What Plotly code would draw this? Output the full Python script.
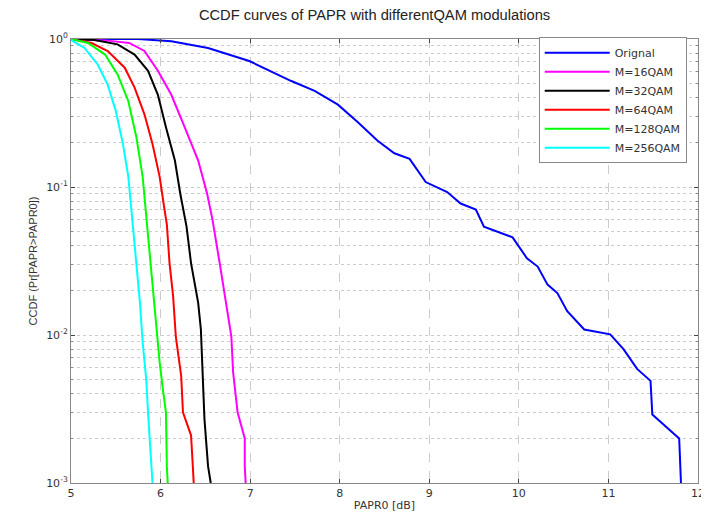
import plotly.graph_objects as go

# PAPR0 [dB] and CCDF values
orig_x = [5.0, 5.75, 6.12, 6.53, 6.99, 7.46, 7.72, 7.98, 8.2, 8.42, 8.61, 8.78, 8.96, 9.2, 9.35, 9.52, 9.61,
          9.8, 9.93, 10.09, 10.21, 10.32, 10.43, 10.54, 10.73, 11.02, 11.17, 11.32, 11.47, 11.49, 11.79, 11.81]
orig_y = [1.0, 1.0, 0.965, 0.87, 0.71, 0.52, 0.446, 0.36, 0.275, 0.206, 0.169, 0.155, 0.108, 0.0925, 0.0773,
          0.0704, 0.054, 0.049, 0.0457, 0.033, 0.029, 0.0219, 0.0192, 0.0145, 0.0109, 0.0101, 0.008, 0.0059,
          0.0049, 0.0029, 0.002, 0.001]

m16_x = [5.0, 5.41, 5.65, 5.82, 5.97, 6.12, 6.27, 6.42, 6.52, 6.58, 6.66, 6.73, 6.79, 6.81, 6.86, 6.94, 6.94, 6.95]
m16_y = [1.0, 0.975, 0.94, 0.83, 0.61, 0.42, 0.253, 0.151, 0.09, 0.06, 0.0306, 0.0165, 0.0098, 0.0056, 0.003,
         0.002, 0.0013, 0.001]

m32_x = [5.0, 5.26, 5.52, 5.71, 5.86, 5.97, 6.06, 6.16, 6.22, 6.29, 6.34, 6.42, 6.45, 6.47, 6.49, 6.53, 6.56]
m32_y = [1.0, 0.985, 0.92, 0.785, 0.61, 0.42, 0.253, 0.151, 0.09, 0.054, 0.0306, 0.0165, 0.0109, 0.0056,
         0.0027, 0.0013, 0.001]

m64_x = [5.0, 5.23, 5.41, 5.6, 5.71, 5.82, 5.91, 5.99, 6.04, 6.07, 6.1, 6.14, 6.17, 6.23, 6.25, 6.34, 6.36, 6.37]
m64_y = [1.0, 0.94, 0.83, 0.64, 0.47, 0.31, 0.195, 0.117, 0.073, 0.056, 0.0306, 0.0183, 0.0098, 0.0053, 0.003,
         0.0021, 0.0013, 0.001]

m128_x = [5.0, 5.19, 5.38, 5.52, 5.64, 5.73, 5.8, 5.85, 5.9, 5.95, 5.99, 6.03, 6.06, 6.07, 6.08]
m128_y = [1.0, 0.94, 0.785, 0.576, 0.38, 0.217, 0.117, 0.054, 0.0277, 0.0127, 0.0065, 0.0041, 0.003, 0.0013, 0.001]

m256_x = [5.0, 5.15, 5.3, 5.41, 5.5, 5.58, 5.64, 5.69, 5.73, 5.77, 5.8, 5.84, 5.86, 5.9, 5.91]
m256_y = [0.985, 0.87, 0.67, 0.49, 0.327, 0.195, 0.117, 0.057, 0.0306, 0.0165, 0.0089, 0.005, 0.003, 0.0013, 0.001]

series_names = ["Orignal", "M=16QAM", "M=32QAM", "M=64QAM", "M=128QAM", "M=256QAM"]
series_colors = ["#0000ff", "#ff00ff", "#000000", "#ff0000", "#00ff00", "#00ffff"]
series_x = [orig_x, m16_x, m32_x, m64_x, m128_x, m256_x]
series_y = [orig_y, m16_y, m32_y, m64_y, m128_y, m256_y]

x_ticks = [5, 6, 7, 8, 9, 10, 11, 12]
y_ticks = [1e-3, 1e-2, 1e-1, 1]
y_tick_text = ["10<sup>-3</sup>", "10<sup>-2</sup>", "10<sup>-1</sup>", "10<sup>0</sup>"]

fig = go.Figure()
for name, color, xs, ys in zip(series_names, series_colors, series_x, series_y):
    fig.add_trace(go.Scatter(x=xs, y=ys, mode="lines", name=name,
                             line=dict(color=color, width=2)))

wide = "DejaVu Sans, Verdana, sans-serif"
narrow = "Liberation Sans, Arial, sans-serif"
fig.update_layout(
    width=709, height=514,
    margin=dict(l=63, r=18, t=31, b=36),
    paper_bgcolor="white", plot_bgcolor="white",
    font=dict(family=wide, size=11, color="#333333"),
    title=dict(text="CCDF curves of PAPR with differentQAM modulations",
               x=0.517, xanchor="center", y=0.987, yanchor="middle",
               font=dict(family=narrow, size=14.7, color="#222222")),
    showlegend=True,
    legend=dict(x=0.982, y=1.004, xanchor="right", yanchor="top",
                bgcolor="white", bordercolor="#888888", borderwidth=1,
                font=dict(family=wide, size=11, color="#333333"), tracegroupgap=0,
                itemwidth=65),
)
fig.update_xaxes(
    range=[5, 12], tickvals=x_ticks, ticks="inside", ticklen=4,
    showline=True, linecolor="#888888", linewidth=1, mirror="ticks",
    showgrid=True, gridcolor="#cccccc", griddash="dash", gridwidth=1,
    zeroline=False, tickfont=dict(family=wide, size=11),
    title=dict(text="PAPR0 [dB]", font=dict(family=wide, size=11), standoff=2),
)
fig.update_yaxes(
    type="log", range=[-3, 0], tickvals=y_ticks, ticktext=y_tick_text,
    ticks="inside", ticklen=4,
    showline=True, linecolor="#888888", linewidth=1, mirror="ticks",
    showgrid=True, gridcolor="#cccccc", griddash="dot", gridwidth=1,
    zeroline=False, tickfont=dict(family=wide, size=11),
    minor=dict(dtick="D1", showgrid=True, gridcolor="#cccccc", griddash="dot",
               ticks="inside", ticklen=2, tickcolor="#888888"),
    title=dict(text="CCDF (Pr[PAPR>PAPR0])", font=dict(family=narrow, size=11), standoff=6),
)

fig.write_html("out.html")
